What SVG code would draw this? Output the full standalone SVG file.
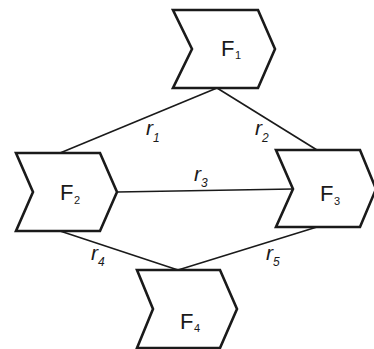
<svg xmlns="http://www.w3.org/2000/svg" width="374" height="349" viewBox="0 0 374 349">
<style>
.node{fill:#fff;stroke:#1a1a1a;stroke-width:2.6;stroke-linejoin:miter}
.edge{stroke:#1a1a1a;stroke-width:1.6;fill:none}
.lab{font-family:"Liberation Sans",Arial,sans-serif;fill:#1a1a1a;font-size:22px}
.sub{font-family:"Liberation Sans",Arial,sans-serif;fill:#1a1a1a;font-size:11px}
.r{font-family:"Liberation Sans",Arial,sans-serif;fill:#1a1a1a;font-size:21px;font-style:italic}
.rs{font-family:"Liberation Sans",Arial,sans-serif;fill:#1a1a1a;font-size:12px;font-style:italic}
</style>
<rect width="374" height="349" fill="#fff"/>
<g id="connectors">
<line class="edge" x1="217" y1="88" x2="60" y2="153"/>
<line class="edge" x1="217" y1="88" x2="317" y2="150"/>
<line class="edge" x1="117" y1="192" x2="293" y2="189"/>
<line class="edge" x1="60" y1="231" x2="178" y2="270"/>
<line class="edge" x1="317" y1="227" x2="178" y2="270"/>
<text class="r" x="146" y="135">r</text><text class="rs" x="153" y="142">1</text>
<text class="r" x="255" y="135">r</text><text class="rs" x="262" y="142">2</text>
<text class="r" x="194" y="181">r</text><text class="rs" x="201" y="187">3</text>
<text class="r" x="91" y="260">r</text><text class="rs" x="98" y="266">4</text>
<text class="r" x="266" y="260">r</text><text class="rs" x="273" y="266">5</text>
</g>
<g id="F1">
<polygon class="node" points="173,10 258,10 275,49 258,88 173,88 192,49"/>
<text class="lab" x="221" y="56">F</text><text class="sub" x="235" y="59">1</text>
</g>
<g id="F2">
<polygon class="node" points="16,153 100,153 117,192 100,231 16,231 33,192"/>
<text class="lab" x="60" y="200">F</text><text class="sub" x="74" y="204">2</text>
</g>
<g id="F3">
<polygon class="node" points="276,150 360,150 376,189 360,227 276,227 293,189"/>
<text class="lab" x="320" y="201">F</text><text class="sub" x="334" y="205">3</text>
</g>
<g id="F4">
<polygon class="node" points="137,270 220,270 237,309 220,348 137,348 153,309"/>
<text class="lab" x="180" y="329">F</text><text class="sub" x="194" y="332">4</text>
</g>
</svg>
